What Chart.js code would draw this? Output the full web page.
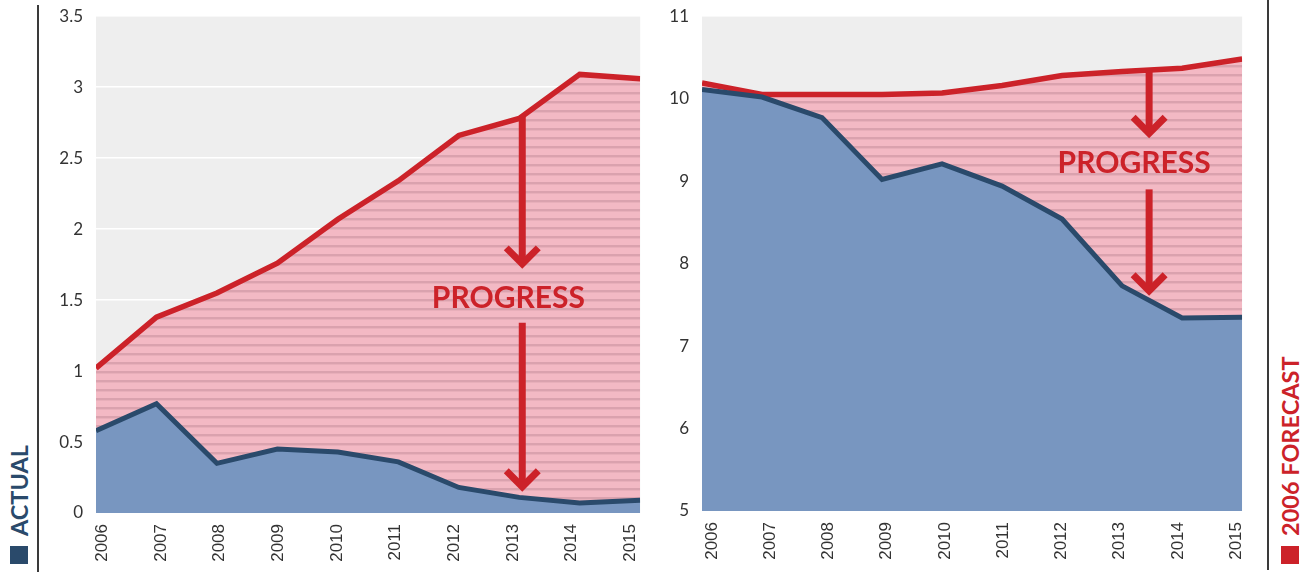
<!DOCTYPE html>
<html><head><meta charset="utf-8">
<script src="https://cdn.jsdelivr.net/npm/chart.js@4.4.1/dist/chart.umd.min.js"></script>
<style>
html,body{margin:0;padding:0;background:#fff;width:1304px;height:580px;overflow:hidden;position:relative;font-family:Lato,sans-serif}
canvas{position:absolute}
.vline{position:absolute;width:2px;background:#3a3a3a}
.leg{position:absolute;transform-origin:left top;transform:rotate(-90deg);font-weight:700;font-size:23.5px;white-space:nowrap;line-height:24px;font-family:Lato,sans-serif}
.sq{position:absolute;width:18px;height:18px}
</style></head><body>
<div class="vline" style="left:37px;top:5px;height:567px"></div>
<div class="vline" style="left:1267px;top:0px;height:570px"></div>
<div class="leg" style="left:7px;top:536px;color:#2a4a6b">ACTUAL</div>
<div class="sq" style="left:10px;top:546px;background:#2a4a6b"></div>
<div class="leg" style="left:1278px;top:536px;color:#cc2229">2006 FORECAST</div>
<div class="sq" style="left:1281px;top:546px;background:#cc2229"></div>
<canvas id="left" width="622" height="587" style="left:40px;top:-7px"></canvas>
<canvas id="right" width="608" height="585" style="left:660px;top:-7px"></canvas>
<script>
const years = [2006, 2007, 2008, 2009, 2010, 2011, 2012, 2013, 2014, 2015];
const actualLeft = [0.58, 0.77, 0.35, 0.45, 0.43, 0.36, 0.18, 0.11, 0.07, 0.09];
const forecastLeft = [1.02, 1.38, 1.55, 1.76, 2.07, 2.34, 2.66, 2.78, 3.09, 3.06];
const actualRight = [10.11, 10.02, 9.77, 9.02, 9.21, 8.94, 8.54, 7.73, 7.34, 7.35];
const forecastRight = [10.19, 10.05, 10.05, 10.05, 10.07, 10.16, 10.28, 10.33, 10.37, 10.48];
const leftTicks = [0, 0.5, 1, 1.5, 2, 2.5, 3, 3.5];
const rightTicks = [5, 6, 7, 8, 9, 10, 11];

const RED = '#cc2229', NAVY = '#2a4a6b', BLUE = '#7896c0';

function hatch() {
  const c = document.createElement('canvas');
  c.width = 16; c.height = 9;
  const g = c.getContext('2d');
  g.fillStyle = '#f3b9c4'; g.fillRect(0, 0, 16, 9);
  g.fillStyle = '#daa2ae'; g.fillRect(0, 0, 16, 2);
  g.fillStyle = '#e8afba'; g.fillRect(0, 2, 16, 1);
  return g.createPattern(c, 'repeat');
}

const bgPlugin = {
  id: 'bg',
  beforeDraw(chart) {
    const { ctx, chartArea: a } = chart;
    ctx.save(); ctx.fillStyle = '#eeeeee';
    ctx.fillRect(a.left, a.top, a.right - a.left, a.bottom - a.top);
    ctx.restore();
  }
};

const progressPlugin = {
  id: 'progress',
  afterDatasetsDraw(chart, args, o) {
    const { ctx, scales: { x, y } } = chart;
    const ax = x.getPixelForValue(o.arrowX);
    ctx.save();
    ctx.strokeStyle = RED; ctx.lineWidth = 7; ctx.lineCap = 'butt'; ctx.lineJoin = 'miter';
    o.arrows.forEach(([a, b]) => {
      const y0 = y.getPixelForValue(a), y1 = y.getPixelForValue(b);
      ctx.beginPath(); ctx.moveTo(ax, y0); ctx.lineTo(ax, y1 - 6); ctx.stroke();
      ctx.beginPath(); ctx.moveTo(ax - 16, y1 - 21); ctx.lineTo(ax, y1 - 5); ctx.lineTo(ax + 16, y1 - 21); ctx.stroke();
    });
    ctx.font = '700 30px Lato'; ctx.fillStyle = RED; ctx.textAlign = 'center'; ctx.textBaseline = 'middle';
    ctx.fillText('PROGRESS', x.getPixelForValue(o.textX), y.getPixelForValue(o.textY));
    ctx.restore();
  }
};

function make(id, actual, forecast, ticks, yw, lblMin, lblMax, prog) {
  const pat = hatch();
  new Chart(document.getElementById(id), {
    type: 'line',
    data: {
      datasets: [
        { data: years.map((v, i) => ({ x: v, y: actual[i] })), borderColor: NAVY, backgroundColor: BLUE, fill: 'start', borderWidth: 5, pointRadius: 0, tension: 0, borderJoinStyle: 'miter' },
        { data: years.map((v, i) => ({ x: v, y: forecast[i] })), borderColor: RED, backgroundColor: pat, fill: '-1', borderWidth: 5.5, pointRadius: 0, tension: 0, borderJoinStyle: 'miter' }
      ]
    },
    options: {
      responsive: false, animation: false,
      layout: { padding: { left: 0, top: 8, right: 0, bottom: 3 } },
      plugins: { legend: { display: false }, tooltip: { enabled: false }, progress: prog },
      scales: {
        x: { type: 'linear', min: years[0], max: years[years.length - 1], display: false },
        xl: {
          type: 'linear', position: 'bottom', min: lblMin, max: lblMax,
          grid: { display: false, drawTicks: false }, border: { display: false },
          afterBuildTicks: s => { s.ticks = years.map(v => ({ value: v })); },
          afterFit: s => { s.height = 64; },
          ticks: { autoSkip: false, minRotation: 90, maxRotation: 90, padding: 11, color: '#333', font: { family: 'Liberation Sans', size: 17 }, callback: v => String(v) }
        },
        y: {
          min: ticks[0], max: ticks[ticks.length - 1],
          afterBuildTicks: s => { s.ticks = ticks.map(v => ({ value: v })); },
          afterFit: s => { s.width = yw; },
          grid: { color: '#ffffff', lineWidth: 1.5, drawTicks: false }, border: { display: false },
          ticks: { padding: 13, color: '#333', font: { family: 'Lato', size: 17 }, callback: v => String(v) }
        }
      }
    },
    plugins: [bgPlugin, progressPlugin]
  });
}

make('left', actualLeft, forecastLeft, leftTicks, 56, 2005.893, 2015.17,
  { arrowX: 2013.05, arrows: [[2.79, 1.72], [1.34, 0.15]], textX: 2012.82, textY: 1.51 });
make('right', actualRight, forecastRight, rightTicks, 42, 2005.83, 2015.10,
  { arrowX: 2013.45, arrows: [[10.34, 9.52], [8.9, 7.61]], textX: 2013.2, textY: 9.21 });
</script>
</body></html>
